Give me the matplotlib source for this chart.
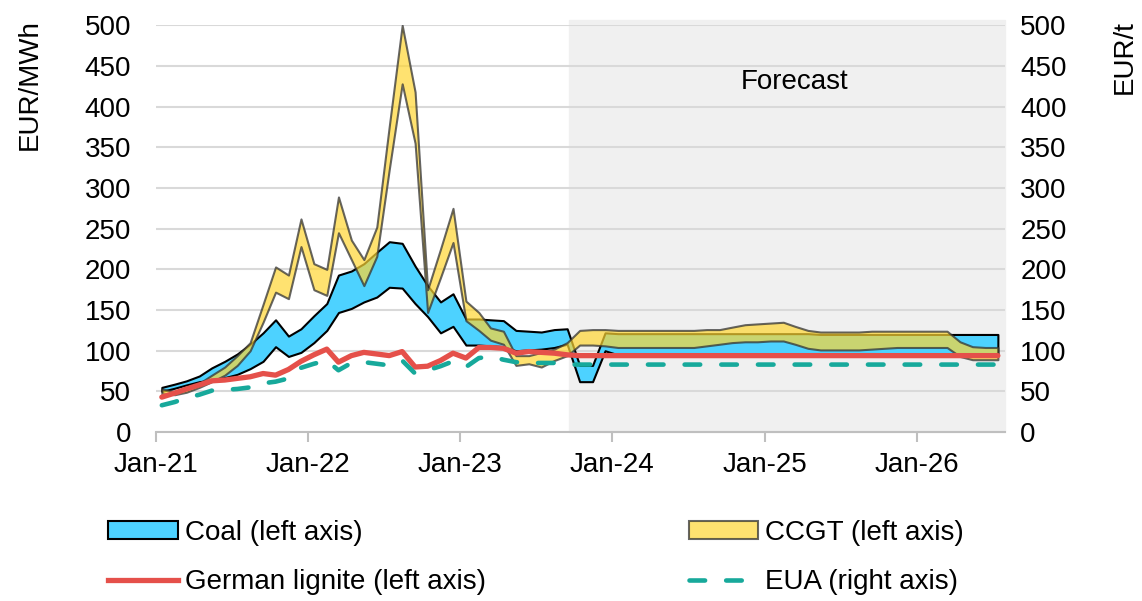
import numpy as np
import pandas as pd
import matplotlib
matplotlib.use('Agg')
import matplotlib.pyplot as plt
import matplotlib.dates as mdates
from matplotlib.patches import Patch
from matplotlib.lines import Line2D

plt.rcParams['font.family'] = ['Liberation Sans', 'DejaVu Sans']

# monthly values, Jan-21 .. Jul-26 (EUR/MWh, EUA in EUR/t)
months = pd.date_range('2021-01-01', periods=67, freq='MS') + pd.Timedelta(days=14)

coal_hi = [55, 59, 63, 69, 79, 87, 96, 108, 122, 138, 118, 127, 143, 158, 193, 198, 207, 221,
           234, 232, 204, 180, 160, 170, 139, 139, 138, 137, 125, 124, 123, 126, 127, 82, 82, 122] \
          + [121] * 16 + [120] * 15
coal_lo = [50, 54, 58, 62, 64, 67, 71, 78, 87, 105, 93, 98, 110, 125, 147, 152, 160, 166,
           178, 177, 158, 142, 122, 130, 107, 107, 106, 105, 100, 101, 102, 104, 108, 62, 62, 100] \
          + [95] * 31
ccgt_hi = [53, 50, 53, 60, 70, 80, 94, 110, 157, 203, 193, 262, 207, 200, 289, 236, 212, 252,
           376, 500, 418, 175, 225, 275, 161, 147, 128, 124, 94, 94, 98, 102, 110, 125, 126, 126] \
          + [125] * 7 \
          + [126, 126, 129, 132, 133, 134, 135, 130, 125, 123, 123, 123, 123, 124, 124, 124, 124,
             124, 124, 124, 111, 105, 104, 104]
ccgt_lo = [47, 46, 49, 55, 62, 70, 82, 100, 135, 172, 164, 228, 175, 168, 245, 212, 180, 216,
           323, 428, 355, 147, 190, 233, 137, 125, 113, 108, 82, 84, 80, 88, 94, 107, 107, 106] \
          + [104] * 7 \
          + [106, 108, 110, 111, 111, 112, 112, 108, 103, 101, 101, 101, 101, 102, 103, 104, 104,
             104, 104, 104, 93, 89, 89, 89]
lignite = [43, 48, 53, 58, 63, 64, 66, 68, 72, 70, 77, 87, 95, 102, 86, 94, 98, 96, 94, 99,
           80, 81, 88, 97, 91, 104, 104, 103, 97, 99, 98, 97, 95] + [94] * 34
eua = [33, 37, 42, 46, 51, 52, 53, 55, 60, 62, 66, 79, 84, 88, 76, 85, 86, 84, 82, 88,
       72, 76, 81, 87, 80, 91, 93, 89, 86, 85, 85, 85, 83] + [83] * 34

forecast_start = pd.Timestamp('2023-09-19')
x_start, x_end = pd.Timestamp('2021-01-01'), pd.Timestamp('2026-08-01')

blue = '#4dd2ff'
yellow = (1.0, 0.84, 0.2, 0.7)
edge_y = (0.2, 0.2, 0.2, 0.75)
red = '#e5504a'
teal = '#17a99b'
eua_dash = (3.4, 4.6)

fig = plt.figure(figsize=(11.42, 6.01), dpi=100)
ax = fig.add_axes([0.1366, 0.281, 0.7434, 0.677])

ax.axvspan(forecast_start, x_end, ymin=0, ymax=1.012, color='#f0f0f0', zorder=0.2, clip_on=False)
ax.fill_between(months, coal_lo, coal_hi, facecolor=blue, edgecolor='black', linewidth=1.5, zorder=2)
ax.fill_between(months, ccgt_lo, ccgt_hi, facecolor=yellow, edgecolor=edge_y,
                linewidth=1.5, zorder=3)
ax.plot(months, lignite, color=red, linewidth=3.8, solid_capstyle='round', zorder=4)

ax2 = ax.twinx()
ax2.plot(months, eua, color=teal, linewidth=3.3, dashes=eua_dash, dash_capstyle='round', zorder=5)

for a in (ax, ax2):
    a.set_ylim(0, 500)
    a.set_yticks(range(0, 501, 50))
    a.set_xlim(x_start, x_end)
    for s in a.spines.values():
        s.set_visible(False)

ax.spines['bottom'].set_visible(True)
ax.spines['bottom'].set_color('#bfbfbf')
ax.spines['bottom'].set_linewidth(1.5)
ax.grid(axis='y', color='#d9d9d9', linewidth=1.5)
ax.set_axisbelow(True)

ax.xaxis.set_major_locator(mdates.YearLocator())
ax.xaxis.set_major_formatter(mdates.DateFormatter('%b-%y'))
ax.tick_params(axis='x', labelsize=20, length=7, width=1.5, color='#bfbfbf', pad=7)
ax.tick_params(axis='y', labelsize=20, length=0, pad=18)
ax2.tick_params(axis='y', labelsize=20, length=0, pad=11)

ax.text(pd.Timestamp('2025-03-15'), 430, 'Forecast', fontsize=20, ha='center', va='center')

fig.text(0.026, 0.86, 'EUR/MWh', rotation=90, fontsize=20, ha='center', va='center')
fig.text(0.985, 0.905, 'EUR/t', rotation=90, fontsize=20, ha='center', va='center')

h1 = [Patch(facecolor=blue, edgecolor='black', linewidth=1.5),
      Line2D([], [], color=red, linewidth=3.8)]
h2 = [Patch(facecolor=yellow, edgecolor=edge_y, linewidth=1.5),
      Line2D([], [], color=teal, linewidth=3.3, dashes=eua_dash, dash_capstyle='round')]
leg_kw = dict(frameon=False, fontsize=20, handlelength=2.5, handleheight=0.6,
              handletextpad=0.25, labelspacing=0.85, borderpad=0, borderaxespad=0,
              loc='upper left')
l1 = fig.legend(h1, ['Coal (left axis)', 'German lignite (left axis)'],
                bbox_to_anchor=(0.095, 0.135), **leg_kw)
l2 = fig.legend(h2, ['CCGT (left axis)', 'EUA (right axis)'],
                bbox_to_anchor=(0.603, 0.135), **leg_kw)

fig.savefig('out.png', dpi=100)
